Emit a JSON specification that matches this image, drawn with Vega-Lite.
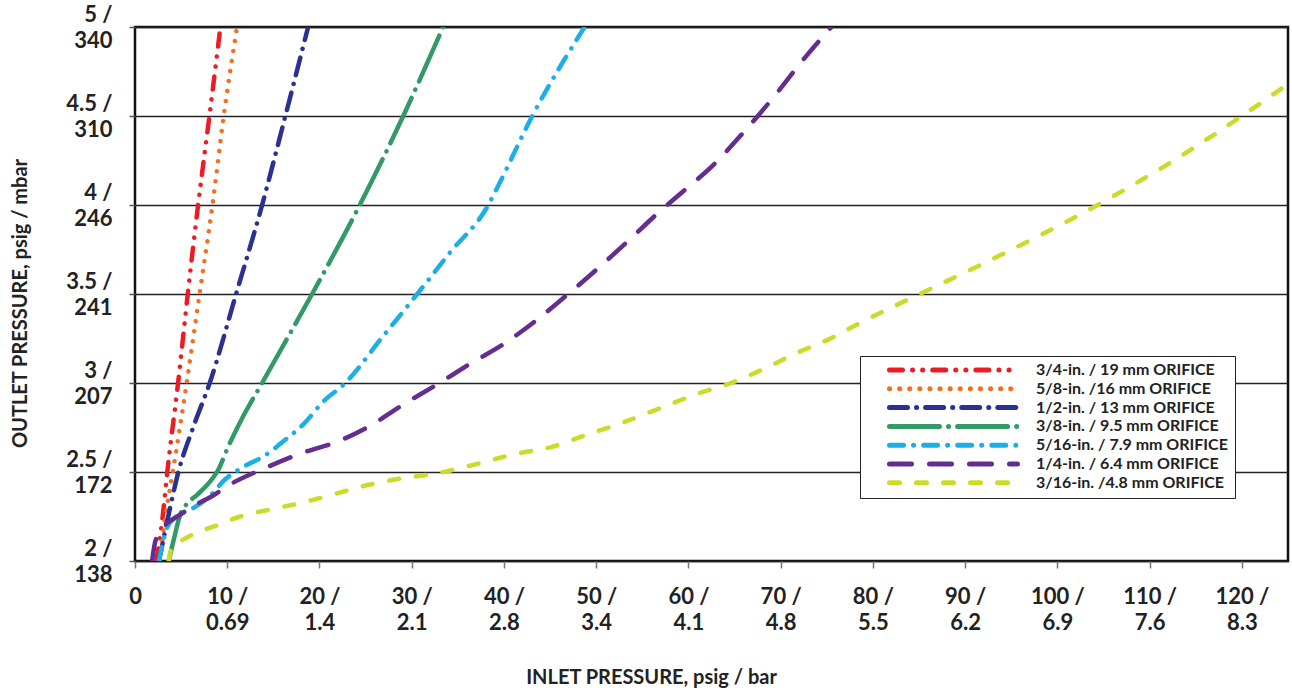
{
  "$schema": "https://vega.github.io/schema/vega-lite/v6.json",
  "autosize": "none",
  "width": 1153,
  "height": 534,
  "padding": {"left": 135, "top": 27, "right": 4, "bottom": 131},
  "background": "white",
  "config": {
    "font": "Lato",
    "view": {"stroke": "#111", "strokeWidth": 2.5},
    "axis": {"labelFont": "Lato", "labelFontWeight": "bold", "labelColor": "#222", "titleFont": "Lato", "titleFontWeight": "bold", "titleColor": "#222"}
  },
  "data": {"values": [
    {"orifice": "3/4-in. / 19 mm ORIFICE", "inlet": 2.3, "outlet": 2.0},
    {"orifice": "3/4-in. / 19 mm ORIFICE", "inlet": 3.0, "outlet": 2.25},
    {"orifice": "3/4-in. / 19 mm ORIFICE", "inlet": 3.5, "outlet": 2.5},
    {"orifice": "3/4-in. / 19 mm ORIFICE", "inlet": 4.67, "outlet": 3.0},
    {"orifice": "3/4-in. / 19 mm ORIFICE", "inlet": 5.72, "outlet": 3.5},
    {"orifice": "3/4-in. / 19 mm ORIFICE", "inlet": 6.84, "outlet": 4.0},
    {"orifice": "3/4-in. / 19 mm ORIFICE", "inlet": 8.07, "outlet": 4.5},
    {"orifice": "3/4-in. / 19 mm ORIFICE", "inlet": 9.26, "outlet": 5.0},

    {"orifice": "5/8-in. /16 mm ORIFICE", "inlet": 2.7, "outlet": 2.0},
    {"orifice": "5/8-in. /16 mm ORIFICE", "inlet": 3.3, "outlet": 2.25},
    {"orifice": "5/8-in. /16 mm ORIFICE", "inlet": 4.1, "outlet": 2.5},
    {"orifice": "5/8-in. /16 mm ORIFICE", "inlet": 5.6, "outlet": 3.0},
    {"orifice": "5/8-in. /16 mm ORIFICE", "inlet": 7.0, "outlet": 3.5},
    {"orifice": "5/8-in. /16 mm ORIFICE", "inlet": 8.4, "outlet": 4.0},
    {"orifice": "5/8-in. /16 mm ORIFICE", "inlet": 9.62, "outlet": 4.5},
    {"orifice": "5/8-in. /16 mm ORIFICE", "inlet": 11.0, "outlet": 4.98},

    {"orifice": "1/2-in. / 13 mm ORIFICE", "inlet": 2.6, "outlet": 2.0},
    {"orifice": "1/2-in. / 13 mm ORIFICE", "inlet": 3.6, "outlet": 2.25},
    {"orifice": "1/2-in. / 13 mm ORIFICE", "inlet": 4.7, "outlet": 2.5},
    {"orifice": "1/2-in. / 13 mm ORIFICE", "inlet": 6.3, "outlet": 2.75},
    {"orifice": "1/2-in. / 13 mm ORIFICE", "inlet": 8.1, "outlet": 3.0},
    {"orifice": "1/2-in. / 13 mm ORIFICE", "inlet": 10.96, "outlet": 3.5},
    {"orifice": "1/2-in. / 13 mm ORIFICE", "inlet": 13.78, "outlet": 4.0},
    {"orifice": "1/2-in. / 13 mm ORIFICE", "inlet": 16.3, "outlet": 4.5},
    {"orifice": "1/2-in. / 13 mm ORIFICE", "inlet": 18.77, "outlet": 5.0},

    {"orifice": "3/8-in. / 9.5 mm ORIFICE", "inlet": 3.66, "outlet": 2.0},
    {"orifice": "3/8-in. / 9.5 mm ORIFICE", "inlet": 4.2, "outlet": 2.12},
    {"orifice": "3/8-in. / 9.5 mm ORIFICE", "inlet": 4.9, "outlet": 2.26},
    {"orifice": "3/8-in. / 9.5 mm ORIFICE", "inlet": 5.6, "outlet": 2.32},
    {"orifice": "3/8-in. / 9.5 mm ORIFICE", "inlet": 6.7, "outlet": 2.37},
    {"orifice": "3/8-in. / 9.5 mm ORIFICE", "inlet": 8.5, "outlet": 2.47},
    {"orifice": "3/8-in. / 9.5 mm ORIFICE", "inlet": 9.0, "outlet": 2.51},
    {"orifice": "3/8-in. / 9.5 mm ORIFICE", "inlet": 10.0, "outlet": 2.63},
    {"orifice": "3/8-in. / 9.5 mm ORIFICE", "inlet": 11.8, "outlet": 2.82},
    {"orifice": "3/8-in. / 9.5 mm ORIFICE", "inlet": 13.78, "outlet": 3.0},
    {"orifice": "3/8-in. / 9.5 mm ORIFICE", "inlet": 16.5, "outlet": 3.25},
    {"orifice": "3/8-in. / 9.5 mm ORIFICE", "inlet": 19.2, "outlet": 3.5},
    {"orifice": "3/8-in. / 9.5 mm ORIFICE", "inlet": 24.37, "outlet": 4.0},
    {"orifice": "3/8-in. / 9.5 mm ORIFICE", "inlet": 29.08, "outlet": 4.5},
    {"orifice": "3/8-in. / 9.5 mm ORIFICE", "inlet": 33.4, "outlet": 5.0},

    {"orifice": "5/16-in. / 7.9 mm ORIFICE", "inlet": 2.6, "outlet": 2.0},
    {"orifice": "5/16-in. / 7.9 mm ORIFICE", "inlet": 3.1, "outlet": 2.12},
    {"orifice": "5/16-in. / 7.9 mm ORIFICE", "inlet": 3.5, "outlet": 2.19},
    {"orifice": "5/16-in. / 7.9 mm ORIFICE", "inlet": 4.5, "outlet": 2.25},
    {"orifice": "5/16-in. / 7.9 mm ORIFICE", "inlet": 6.4, "outlet": 2.3},
    {"orifice": "5/16-in. / 7.9 mm ORIFICE", "inlet": 8.2, "outlet": 2.37},
    {"orifice": "5/16-in. / 7.9 mm ORIFICE", "inlet": 9.6, "outlet": 2.45},
    {"orifice": "5/16-in. / 7.9 mm ORIFICE", "inlet": 11.8, "outlet": 2.53},
    {"orifice": "5/16-in. / 7.9 mm ORIFICE", "inlet": 14.0, "outlet": 2.59},
    {"orifice": "5/16-in. / 7.9 mm ORIFICE", "inlet": 16.5, "outlet": 2.69},
    {"orifice": "5/16-in. / 7.9 mm ORIFICE", "inlet": 18.3, "outlet": 2.77},
    {"orifice": "5/16-in. / 7.9 mm ORIFICE", "inlet": 20.3, "outlet": 2.89},
    {"orifice": "5/16-in. / 7.9 mm ORIFICE", "inlet": 22.8, "outlet": 3.0},
    {"orifice": "5/16-in. / 7.9 mm ORIFICE", "inlet": 26.7, "outlet": 3.25},
    {"orifice": "5/16-in. / 7.9 mm ORIFICE", "inlet": 30.6, "outlet": 3.5},
    {"orifice": "5/16-in. / 7.9 mm ORIFICE", "inlet": 34.1, "outlet": 3.73},
    {"orifice": "5/16-in. / 7.9 mm ORIFICE", "inlet": 38.3, "outlet": 4.0},
    {"orifice": "5/16-in. / 7.9 mm ORIFICE", "inlet": 39.3, "outlet": 4.1},
    {"orifice": "5/16-in. / 7.9 mm ORIFICE", "inlet": 43.07, "outlet": 4.5},
    {"orifice": "5/16-in. / 7.9 mm ORIFICE", "inlet": 48.74, "outlet": 5.0},

    {"orifice": "1/4-in. / 6.4 mm ORIFICE", "inlet": 1.85, "outlet": 2.0},
    {"orifice": "1/4-in. / 6.4 mm ORIFICE", "inlet": 2.2, "outlet": 2.11},
    {"orifice": "1/4-in. / 6.4 mm ORIFICE", "inlet": 3.1, "outlet": 2.19},
    {"orifice": "1/4-in. / 6.4 mm ORIFICE", "inlet": 4.9, "outlet": 2.26},
    {"orifice": "1/4-in. / 6.4 mm ORIFICE", "inlet": 6.7, "outlet": 2.32},
    {"orifice": "1/4-in. / 6.4 mm ORIFICE", "inlet": 8.2, "outlet": 2.36},
    {"orifice": "1/4-in. / 6.4 mm ORIFICE", "inlet": 10.3, "outlet": 2.43},
    {"orifice": "1/4-in. / 6.4 mm ORIFICE", "inlet": 14.0, "outlet": 2.52},
    {"orifice": "1/4-in. / 6.4 mm ORIFICE", "inlet": 18.3, "outlet": 2.61},
    {"orifice": "1/4-in. / 6.4 mm ORIFICE", "inlet": 21.9, "outlet": 2.67},
    {"orifice": "1/4-in. / 6.4 mm ORIFICE", "inlet": 25.5, "outlet": 2.76},
    {"orifice": "1/4-in. / 6.4 mm ORIFICE", "inlet": 28.8, "outlet": 2.87},
    {"orifice": "1/4-in. / 6.4 mm ORIFICE", "inlet": 33.0, "outlet": 3.0},
    {"orifice": "1/4-in. / 6.4 mm ORIFICE", "inlet": 36.4, "outlet": 3.11},
    {"orifice": "1/4-in. / 6.4 mm ORIFICE", "inlet": 40.0, "outlet": 3.22},
    {"orifice": "1/4-in. / 6.4 mm ORIFICE", "inlet": 43.2, "outlet": 3.34},
    {"orifice": "1/4-in. / 6.4 mm ORIFICE", "inlet": 46.5, "outlet": 3.48},
    {"orifice": "1/4-in. / 6.4 mm ORIFICE", "inlet": 50.1, "outlet": 3.64},
    {"orifice": "1/4-in. / 6.4 mm ORIFICE", "inlet": 53.5, "outlet": 3.8},
    {"orifice": "1/4-in. / 6.4 mm ORIFICE", "inlet": 56.6, "outlet": 3.95},
    {"orifice": "1/4-in. / 6.4 mm ORIFICE", "inlet": 59.5, "outlet": 4.08},
    {"orifice": "1/4-in. / 6.4 mm ORIFICE", "inlet": 62.8, "outlet": 4.23},
    {"orifice": "1/4-in. / 6.4 mm ORIFICE", "inlet": 66.0, "outlet": 4.41},
    {"orifice": "1/4-in. / 6.4 mm ORIFICE", "inlet": 69.3, "outlet": 4.61},
    {"orifice": "1/4-in. / 6.4 mm ORIFICE", "inlet": 72.5, "outlet": 4.82},
    {"orifice": "1/4-in. / 6.4 mm ORIFICE", "inlet": 75.5, "outlet": 5.0},

    {"orifice": "3/16-in. /4.8 mm ORIFICE", "inlet": 3.66, "outlet": 2.0},
    {"orifice": "3/16-in. /4.8 mm ORIFICE", "inlet": 4.0, "outlet": 2.08},
    {"orifice": "3/16-in. /4.8 mm ORIFICE", "inlet": 4.9, "outlet": 2.11},
    {"orifice": "3/16-in. /4.8 mm ORIFICE", "inlet": 6.7, "outlet": 2.16},
    {"orifice": "3/16-in. /4.8 mm ORIFICE", "inlet": 8.9, "outlet": 2.2},
    {"orifice": "3/16-in. /4.8 mm ORIFICE", "inlet": 11.4, "outlet": 2.25},
    {"orifice": "3/16-in. /4.8 mm ORIFICE", "inlet": 14.7, "outlet": 2.29},
    {"orifice": "3/16-in. /4.8 mm ORIFICE", "inlet": 18.3, "outlet": 2.33},
    {"orifice": "3/16-in. /4.8 mm ORIFICE", "inlet": 21.9, "outlet": 2.38},
    {"orifice": "3/16-in. /4.8 mm ORIFICE", "inlet": 25.5, "outlet": 2.43},
    {"orifice": "3/16-in. /4.8 mm ORIFICE", "inlet": 29.0, "outlet": 2.465},
    {"orifice": "3/16-in. /4.8 mm ORIFICE", "inlet": 32.4, "outlet": 2.49},
    {"orifice": "3/16-in. /4.8 mm ORIFICE", "inlet": 36.7, "outlet": 2.54},
    {"orifice": "3/16-in. /4.8 mm ORIFICE", "inlet": 41.1, "outlet": 2.6},
    {"orifice": "3/16-in. /4.8 mm ORIFICE", "inlet": 45.1, "outlet": 2.64},
    {"orifice": "3/16-in. /4.8 mm ORIFICE", "inlet": 49.0, "outlet": 2.71},
    {"orifice": "3/16-in. /4.8 mm ORIFICE", "inlet": 53.0, "outlet": 2.78},
    {"orifice": "3/16-in. /4.8 mm ORIFICE", "inlet": 57.0, "outlet": 2.86},
    {"orifice": "3/16-in. /4.8 mm ORIFICE", "inlet": 61.0, "outlet": 2.94},
    {"orifice": "3/16-in. /4.8 mm ORIFICE", "inlet": 64.6, "outlet": 3.0},
    {"orifice": "3/16-in. /4.8 mm ORIFICE", "inlet": 68.2, "outlet": 3.08},
    {"orifice": "3/16-in. /4.8 mm ORIFICE", "inlet": 71.8, "outlet": 3.17},
    {"orifice": "3/16-in. /4.8 mm ORIFICE", "inlet": 75.4, "outlet": 3.25},
    {"orifice": "3/16-in. /4.8 mm ORIFICE", "inlet": 78.7, "outlet": 3.34},
    {"orifice": "3/16-in. /4.8 mm ORIFICE", "inlet": 86.3, "outlet": 3.53},
    {"orifice": "3/16-in. /4.8 mm ORIFICE", "inlet": 93.9, "outlet": 3.72},
    {"orifice": "3/16-in. /4.8 mm ORIFICE", "inlet": 104.7, "outlet": 4.01},
    {"orifice": "3/16-in. /4.8 mm ORIFICE", "inlet": 112.3, "outlet": 4.24},
    {"orifice": "3/16-in. /4.8 mm ORIFICE", "inlet": 120.0, "outlet": 4.5},
    {"orifice": "3/16-in. /4.8 mm ORIFICE", "inlet": 125.0, "outlet": 4.68}
  ]},
  "mark": {"type": "line", "strokeWidth": 4.5, "strokeCap": "round", "interpolate": "monotone", "clip": true},
  "encoding": {
    "x": {
      "field": "inlet", "type": "quantitative",
      "scale": {"domain": [0, 125], "nice": false, "zero": false},
      "axis": {
        "title": "INLET PRESSURE, psig / bar",
        "values": [0, 10, 20, 30, 40, 50, 60, 70, 80, 90, 100, 110, 120],
        "labelExpr": "datum.value == 0 ? '0' : [datum.value + ' /', ['', '0.69', '1.4', '2.1', '2.8', '3.4', '4.1', '4.8', '5.5', '6.2', '6.9', '7.6', '8.3'][round(datum.value / 10)]]",
        "grid": false,
        "domain": false,
        "ticks": true, "tickSize": 7, "tickColor": "#777", "tickWidth": 1.5,
        "labelFontSize": 22, "labelLineHeight": 26, "labelPadding": 18, "labelBaseline": "top", "labelAlign": "center",
        "labelOverlap": false, "labelFlush": false,
        "titleFontSize": 20, "titleX": 516, "titleY": 116, "titleBaseline": "middle", "titleAlign": "center"
      }
    },
    "y": {
      "field": "outlet", "type": "quantitative",
      "scale": {"domain": [2, 5], "nice": false, "zero": false},
      "axis": {
        "title": "OUTLET PRESSURE, psig / mbar",
        "values": [2, 2.5, 3, 3.5, 4, 4.5, 5],
        "labelExpr": "[datum.value + ' /', ['138', '172', '207', '241', '246', '310', '340'][round((datum.value - 2) * 2)]]",
        "grid": true, "gridColor": "#222", "gridWidth": 1.3,
        "domain": false,
        "ticks": true, "tickSize": 6, "tickColor": "#555", "tickWidth": 1.5,
        "labelFontSize": 22, "labelLineHeight": 26, "labelPadding": 17, "labelAlign": "right", "labelBaseline": "middle", "labelOffset": -13,
        "labelOverlap": false, "labelFlush": false,
        "titleFontSize": 20, "titleX": -115, "titleY": 276, "titleAngle": -90, "titleBaseline": "middle", "titleAlign": "center"
      }
    },
    "color": {
      "field": "orifice", "type": "nominal",
      "scale": {
        "domain": ["3/4-in. / 19 mm ORIFICE", "5/8-in. /16 mm ORIFICE", "1/2-in. / 13 mm ORIFICE", "3/8-in. / 9.5 mm ORIFICE", "5/16-in. / 7.9 mm ORIFICE", "1/4-in. / 6.4 mm ORIFICE", "3/16-in. /4.8 mm ORIFICE"],
        "range": ["#ED1C24", "#F36F21", "#2B3192", "#339966", "#1CAFE5", "#662D91", "#CCDB2A"]
      },
      "legend": {
        "title": null,
        "orient": "none", "legendX": 725, "legendY": 329,
        "direction": "vertical",
        "fillColor": "white", "strokeColor": "#222", "padding": 7,
        "symbolType": "stroke", "symbolSize": 16384, "symbolStrokeWidth": 5, "symbolOffset": 20,
        "clipHeight": 14, "rowPadding": 2.8,
        "labelFont": "Lato", "labelFontWeight": "bold", "labelFontSize": 16, "labelColor": "#222", "labelOffset": 16, "labelLimit": 400,
        "encode": {"symbols": {"update": {"strokeCap": {"value": "round"}}}}
      }
    },
    "strokeDash": {
      "field": "orifice", "type": "nominal",
      "scale": {
        "domain": ["3/4-in. / 19 mm ORIFICE", "5/8-in. /16 mm ORIFICE", "1/2-in. / 13 mm ORIFICE", "3/8-in. / 9.5 mm ORIFICE", "5/16-in. / 7.9 mm ORIFICE", "1/4-in. / 6.4 mm ORIFICE", "3/16-in. /4.8 mm ORIFICE"],
        "range": [[13, 10, 0.1, 10, 0.1, 10], [0.1, 10], [18, 9, 0.1, 9], [50, 9, 0.1, 9], [14, 10, 0.1, 10], [22, 18], [10, 17]]
      },
      "legend": {
        "title": null,
        "orient": "none", "legendX": 725, "legendY": 329,
        "direction": "vertical",
        "fillColor": "white", "strokeColor": "#222", "padding": 7,
        "symbolType": "stroke", "symbolSize": 16384, "symbolStrokeWidth": 5, "symbolOffset": 20,
        "clipHeight": 14, "rowPadding": 2.8,
        "labelFont": "Lato", "labelFontWeight": "bold", "labelFontSize": 16, "labelColor": "#222", "labelOffset": 16, "labelLimit": 400,
        "encode": {"symbols": {"update": {"strokeCap": {"value": "round"}}}}
      }
    }
  }
}
